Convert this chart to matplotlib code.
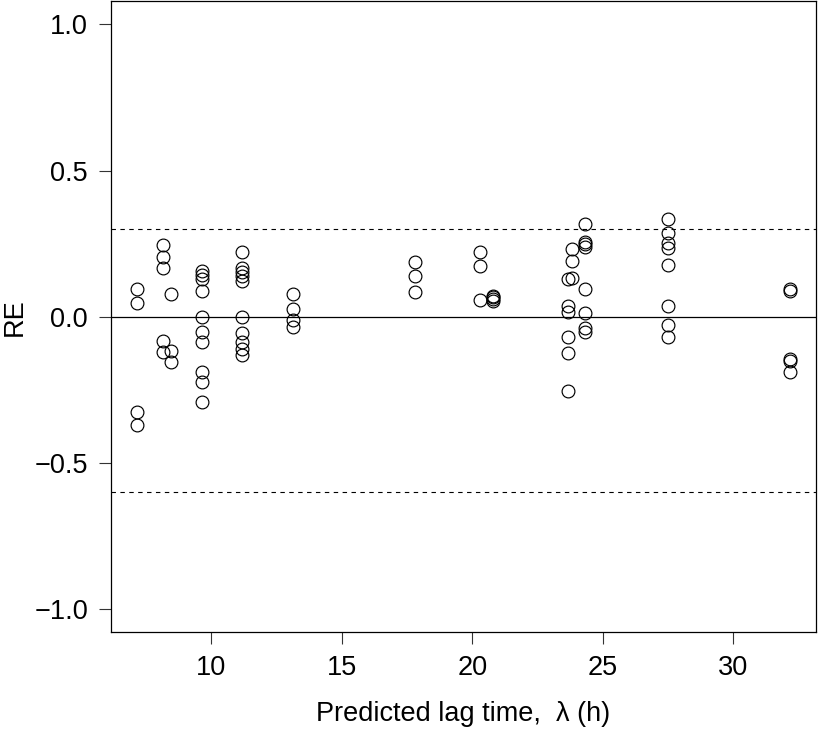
import matplotlib
matplotlib.use("Agg")
import matplotlib.pyplot as plt

plt.rcParams['font.family'] = ['Liberation Sans', 'DejaVu Sans']

# Predicted lag time groups (h) and RE values
x_7 = 7.15
re_7 = [0.094, 0.048, -0.325, -0.371]
x_8a = 8.15
re_8a = [0.244, 0.204, 0.165, -0.084, -0.122]
x_8b = 8.48
re_8b = [0.079, -0.117, -0.155]
x_9 = 9.67
re_9 = [0.155, 0.142, 0.128, 0.087, 0.0, -0.053, -0.086, -0.189, -0.223, -0.291]
x_11 = 11.17
re_11 = [0.222, 0.165, 0.152, 0.138, 0.122, 0.0, -0.057, -0.088, -0.112, -0.130]
x_13 = 13.15
re_13 = [0.076, 0.026, -0.010, -0.035]
x_17 = 17.82
re_17 = [0.187, 0.138, 0.084]
x_20a = 20.31
re_20a = [0.220, 0.172, 0.056]
x_20b = 20.81
re_20b = [0.072, 0.066, 0.060, 0.054]
x_23a = 23.65
re_23a = [0.128, 0.037, 0.016, -0.069, -0.126, -0.254]
x_23b = 23.82
re_23b = [0.231, 0.191, 0.134]
x_24 = 24.32
re_24 = [0.316, 0.256, 0.248, 0.237, 0.096, 0.014, -0.040, -0.052]
x_27 = 27.48
re_27 = [0.333, 0.287, 0.252, 0.235, 0.176, 0.037, -0.029, -0.071]
x_32 = 32.17
re_32 = [0.093, 0.089, -0.146, -0.152, -0.191]

groups = [(x_7, re_7), (x_8a, re_8a), (x_8b, re_8b), (x_9, re_9), (x_11, re_11),
          (x_13, re_13), (x_17, re_17), (x_20a, re_20a), (x_20b, re_20b),
          (x_23a, re_23a), (x_23b, re_23b), (x_24, re_24), (x_27, re_27), (x_32, re_32)]

upper_limit = 0.3
lower_limit = -0.6
x_ticks = [10, 15, 20, 25, 30]
y_ticks = [-1.0, -0.5, 0.0, 0.5, 1.0]

fig = plt.figure(figsize=(8.2, 7.32), dpi=100)
ax = fig.add_axes([0.1354, 0.1362, 0.8594, 0.8624])

xs, ys = [], []
for gx, vals in groups:
    xs += [gx] * len(vals)
    ys += vals
ax.plot(xs, ys, linestyle='none', marker='o', markersize=9.2,
        markerfacecolor='none', markeredgecolor='black', markeredgewidth=0.85)

ax.axhline(0.0, color='black', lw=0.9)
ax.axhline(upper_limit, color='black', lw=0.8, ls=(0, (4, 4)))
ax.axhline(lower_limit, color='black', lw=0.8, ls=(0, (4, 4)))

ax.set_xlim(6.17, 33.15)
ax.set_ylim(-1.08, 1.08)
ax.set_xticks(x_ticks)
ax.set_xticklabels([str(t) for t in x_ticks])
ax.set_yticks(y_ticks)
ax.set_yticklabels(['\u22121.0', '\u22120.5', '0.0', '0.5', '1.0'])
ax.tick_params(axis='both', length=8.6, width=0.8, pad=8.0, labelsize=19.5, color='#333333')
for s in ax.spines.values():
    s.set_linewidth(0.9)

ax.set_xlabel('Predicted lag time,  \u03bb (h)', fontsize=19.5, labelpad=14)
ax.set_ylabel('RE', fontsize=19.5, labelpad=5)

fig.savefig('out.png', dpi=100)
